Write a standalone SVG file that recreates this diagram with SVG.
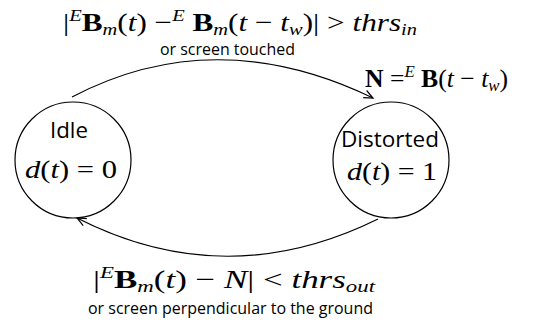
<svg xmlns="http://www.w3.org/2000/svg" width="543" height="323" viewBox="0 0 543 323">
<style>
.node{fill:#fff;stroke:#000;stroke-width:1.2}
.edge{fill:none;stroke:#000;stroke-width:1.2}
.math{font-family:"Liberation Serif","DejaVu Serif",serif;font-size:26px;fill:#000}
.it{font-style:italic}
.bf{font-weight:bold}
.sm{font-size:17px}
.lbl{font-family:"Open Sans","DejaVu Sans",sans-serif;font-size:15.5px;fill:#000}
.nl{font-family:"Open Sans","DejaVu Sans",sans-serif;font-size:22px;fill:#000}
</style>
<defs>
<marker id="arr" markerWidth="12" markerHeight="12" refX="10" refY="5" orient="auto" markerUnits="userSpaceOnUse">
<path d="M1,1 L10,5 L1,9" fill="none" stroke="#000" stroke-width="1.2"/>
</marker>
</defs>
<rect width="543" height="323" fill="#fff"/>
<g id="connectors">
<path class="edge" d="M72,97 Q215,22 373,98" marker-end="url(#arr)"/>
<path class="edge" d="M378,219 Q226,294 77,218" marker-end="url(#arr)"/>
</g>
<g id="idle">
<circle class="node" cx="73" cy="160" r="58"/>
<text class="nl" x="50" y="138" textLength="38" lengthAdjust="spacingAndGlyphs">Idle</text>
<text class="math" x="25" y="178" textLength="92" lengthAdjust="spacingAndGlyphs"><tspan class="it">d</tspan><tspan>(</tspan><tspan class="it">t</tspan><tspan>) = 0</tspan></text>
</g>
<g id="distorted">
<circle class="node" cx="391" cy="160" r="58"/>
<text class="nl" x="341" y="147" textLength="98" lengthAdjust="spacingAndGlyphs">Distorted</text>
<text class="math" x="347" y="180" textLength="90" lengthAdjust="spacingAndGlyphs"><tspan class="it">d</tspan><tspan>(</tspan><tspan class="it">t</tspan><tspan>) = 1</tspan></text>
</g>
<g id="labels">
<text class="math" x="63" y="31" textLength="354" lengthAdjust="spacingAndGlyphs"><tspan>|</tspan><tspan class="it sm" dy="-10">E</tspan><tspan class="bf" dy="10">B</tspan><tspan class="it sm" dy="4">m</tspan><tspan dy="-4">(</tspan><tspan class="it">t</tspan><tspan>) −</tspan><tspan class="it sm" dy="-10">E</tspan><tspan class="bf" dy="10"> B</tspan><tspan class="it sm" dy="4">m</tspan><tspan dy="-4">(</tspan><tspan class="it">t</tspan><tspan> − </tspan><tspan class="it">t</tspan><tspan class="it sm" dy="4">w</tspan><tspan dy="-4">)| &gt; </tspan><tspan class="it">thrs</tspan><tspan class="it sm" dy="4">in</tspan></text>
<text class="lbl" x="160" y="55" textLength="135" lengthAdjust="spacingAndGlyphs">or screen touched</text>
<text class="math" x="365" y="87" textLength="143" lengthAdjust="spacingAndGlyphs"><tspan class="bf">N</tspan><tspan> =</tspan><tspan class="it sm" dy="-10">E</tspan><tspan class="bf" dy="10"> B</tspan><tspan>(</tspan><tspan class="it">t</tspan><tspan> − </tspan><tspan class="it">t</tspan><tspan class="it sm" dy="4">w</tspan><tspan dy="-4">)</tspan></text>
<text class="math" x="93" y="288" textLength="282" lengthAdjust="spacingAndGlyphs"><tspan>|</tspan><tspan class="it sm" dy="-10">E</tspan><tspan class="bf" dy="10">B</tspan><tspan class="it sm" dy="4">m</tspan><tspan dy="-4">(</tspan><tspan class="it">t</tspan><tspan>) − </tspan><tspan class="it">N</tspan><tspan>| &lt; </tspan><tspan class="it">thrs</tspan><tspan class="it sm" dy="4">out</tspan></text>
<text class="lbl" x="88" y="314" textLength="285" lengthAdjust="spacingAndGlyphs">or screen perpendicular to the ground</text>
</g>
</svg>
